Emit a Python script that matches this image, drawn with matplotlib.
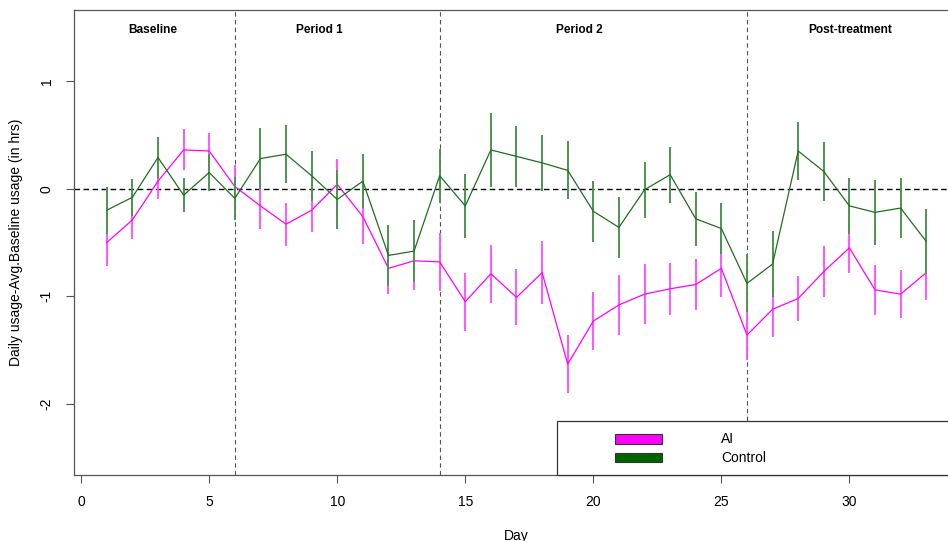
import numpy as np
import matplotlib.pyplot as plt
from matplotlib.patches import Rectangle

plt.rcParams['font.family'] = ['Liberation Sans', 'DejaVu Sans']

days = list(range(1, 34))

ai_mean = [-0.50, -0.29, 0.07, 0.36, 0.35, 0.02, -0.16, -0.33, -0.20, 0.04, -0.26,
           -0.74, -0.67, -0.68, -1.05, -0.79, -1.01, -0.78, -1.63, -1.23, -1.08, -0.98,
           -0.93, -0.89, -0.74, -1.36, -1.12, -1.02, -0.77, -0.55, -0.94, -0.98, -0.78]
ai_err = [0.22, 0.18, 0.17, 0.19, 0.17, 0.20, 0.21, 0.20, 0.20, 0.24, 0.25,
          0.24, 0.27, 0.27, 0.27, 0.27, 0.26, 0.29, 0.27, 0.27, 0.28, 0.28,
          0.24, 0.24, 0.27, 0.23, 0.26, 0.21, 0.24, 0.23, 0.23, 0.22, 0.25]

ctrl_mean = [-0.20, -0.08, 0.29, -0.06, 0.15, -0.09, 0.28, 0.32, 0.12, -0.10, 0.07,
             -0.62, -0.58, 0.12, -0.16, 0.36, 0.30, 0.24, 0.17, -0.21, -0.36, -0.01,
             0.13, -0.28, -0.37, -0.88, -0.70, 0.35, 0.16, -0.16, -0.22, -0.18, -0.49]
ctrl_err = [0.22, 0.17, 0.19, 0.16, 0.17, 0.20, 0.28, 0.27, 0.23, 0.27, 0.25,
            0.28, 0.29, 0.25, 0.30, 0.34, 0.28, 0.26, 0.27, 0.285, 0.285, 0.26,
            0.26, 0.25, 0.24, 0.27, 0.31, 0.27, 0.27, 0.26, 0.30, 0.275, 0.30]

period_breaks = [6, 14, 26]
period_names = ['Baseline', 'Period 1', 'Period 2', 'Post-treatment']
period_label_x = [2.8, 9.3, 19.45, 30.05]

AI_COL = '#ff00ff'
CTRL_COL = '#006400'

fig = plt.figure(figsize=(9.48, 5.41), dpi=100)
# right edge of the plot box falls just outside the picture, as in the original
ax = fig.add_axes([74 / 948, 66 / 541, 885 / 948, 465 / 541])

d = np.array(days)
am, ae = np.array(ai_mean), np.array(ai_err)
cm, ce = np.array(ctrl_mean), np.array(ctrl_err)

ax.vlines(d, am - ae, am + ae, color='#ff55ff', lw=1.4, zorder=2)
ax.plot(d, am, color=AI_COL, lw=0.9, zorder=3)
ax.vlines(d, cm - ce, cm + ce, color='#4f934f', lw=1.4, zorder=4)
ax.plot(d, cm, color='#1f6f1f', lw=0.9, zorder=5)

ax.axhline(0, color='black', lw=1.0, ls=(0, (4, 2.5)), zorder=1)
for b in period_breaks:
    ax.axvline(b, color='#555555', lw=0.8, ls=(0, (4, 3)), zorder=1)

for xx, name in zip(period_label_x, period_names):
    ax.text(xx, 1.47, name, ha='center', va='center', fontsize=8.6, fontweight='bold')

ax.set_xlim(-0.28, 34.28)
ax.set_ylim(-2.66, 1.66)
ax.set_xticks([0, 5, 10, 15, 20, 25, 30])
ax.set_yticks([-2, -1, 0, 1])
ax.set_yticklabels(['-2', '-1', '0', '1'], rotation=90, va='center')
ax.tick_params(axis='both', length=5.5, width=0.8, color='#555555', labelsize=10)
ax.tick_params(axis='x', pad=9)
ax.tick_params(axis='y', pad=9)
for s in ax.spines.values():
    s.set_color('#555555')
    s.set_linewidth(0.9)

ax.set_xlabel('Day', fontsize=10, labelpad=14)
ax.set_ylabel('Daily usage-Avg.Baseline usage (in hrs)', fontsize=10, labelpad=12)

# legend box in the bottom right corner
ax.add_patch(Rectangle((0.5455, 0.0), 0.46, 0.1168, transform=ax.transAxes,
                       facecolor='white', edgecolor='#333333', lw=0.9, zorder=6,
                       clip_on=False))
for yy, col, lab, ty in [(0.0673, AI_COL, 'AI', 0.0774), (0.0273, CTRL_COL, 'Control', 0.0376)]:
    ax.add_patch(Rectangle((0.6114, yy), 0.0531, 0.0205, transform=ax.transAxes,
                           facecolor=col, edgecolor='#333333', lw=0.8, zorder=7))
    ax.text(0.7308, ty, lab, transform=ax.transAxes, fontsize=10, va='center',
            ha='left', zorder=7)

fig.savefig('out.png', dpi=100)
